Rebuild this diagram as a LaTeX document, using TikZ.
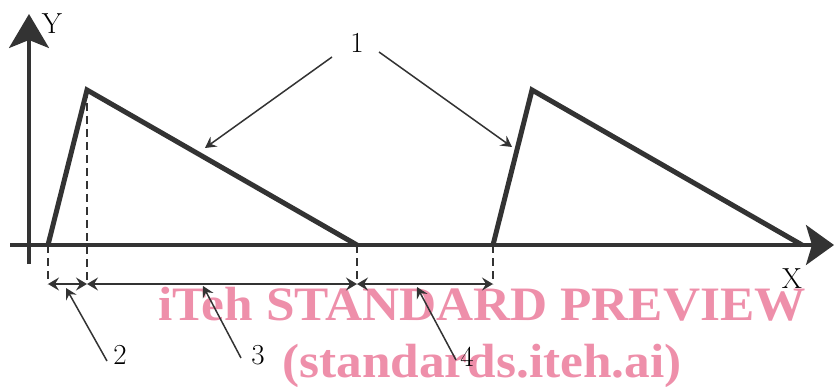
\documentclass[tikz,border=0pt]{standalone}
\usepackage{fontspec}
\newfontfamily\wmfont{Liberation Serif}
\usetikzlibrary{arrows.meta}
\definecolor{ink}{HTML}{333333}
\definecolor{wmpink}{HTML}{EE8FAA}

\begin{document}
\begin{tikzpicture}[x=1pt,y=-1pt,
  font=\fontsize{29}{29}\selectfont,
  axis/.style={draw=ink, line width=3.2pt},
  pulse/.style={draw=ink, line width=5pt, line join=miter},
  ext/.style={draw=ink, line width=1.5pt, dash pattern=on 8pt off 5pt},
  dim/.style={draw=ink, line width=1.5pt, {Stealth[length=11pt,width=13pt,inset=4pt]}-{Stealth[length=11pt,width=13pt,inset=4pt]}},
  lead/.style={draw=ink, line width=1.5pt, -{Stealth[length=11pt,width=12pt,inset=4pt]}},
  lbl/.style={text=black, inner sep=0pt},
  wm/.style={text=wmpink, font=\wmfont\bfseries\fontsize{48}{48}\selectfont, inner sep=0pt, xscale=1.07, transform shape},
]
\useasboundingbox (0,0) rectangle (834,387);
% ---------------- watermark ----------------
\node[wm, anchor=base] (wmtop) at (482,320) {iTeh STANDARD PREVIEW};
\node[wm, anchor=base] (wmbot) at (482,377) {(standards.iteh.ai)};
% ---------------- axes ----------------
\coordinate (ybot) at (29,264);
\coordinate (ytop) at (29,14);
\coordinate (xleft) at (10,245);
\coordinate (xright) at (834,245);
\draw[axis, -{Stealth[length=34pt,width=40pt,inset=8pt]}] (ybot) -- (ytop);
\draw[axis, -{Stealth[length=28pt,width=40pt,inset=6pt]}] (xleft) -- (xright);
\node[lbl] (ylab) at (52,24) {Y};
\node[lbl] (xlab) at (792,279) {X};
% ---------------- pulses ----------------
\coordinate (aS) at (48,245);
\coordinate (aP) at (87,90);
\coordinate (aE) at (357,245);
\coordinate (bS) at (493,245);
\coordinate (bP) at (532,90);
\coordinate (bE) at (802,245);
\draw[pulse] (aS) -- (aP) -- (aE);
\draw[pulse] (bS) -- (bP) -- (bE);
% ---------------- dimensions ----------------
\coordinate (dA) at (48,284);
\coordinate (dB) at (87,284);
\coordinate (dC) at (357,284);
\coordinate (dD) at (493,284);
\draw[ext] (aS) -- (dA);
\draw[ext] (aP) -- (dB);
\draw[ext] (aE) -- (dC);
\draw[ext] (bS) -- (dD);
\draw[dim] (dA) -- (dB);
\draw[dim] (dB) -- (dC);
\draw[dim] (dC) -- (dD);
% ---------------- leaders ----------------
\node[lbl] (one) at (357,43) {1};
\node[lbl] (two) at (120,355) {2};
\node[lbl] (three) at (258,355) {3};
\node[lbl] (four) at (467,357) {4};
\coordinate (oneL) at (332,57);
\coordinate (oneR) at (379,52);
\coordinate (tipA) at (205,148);
\coordinate (tipB) at (512,147);
\coordinate (twoS) at (107,361);
\coordinate (threeS) at (241,358);
\coordinate (fourS) at (456,360);
\draw[lead] (oneL) -- (tipA);
\draw[lead] (oneR) -- (tipB);
\draw[lead] (twoS) -- (66,288);
\draw[lead] (threeS) -- (203,286);
\draw[lead] (fourS) -- (417,287);
\end{tikzpicture}
\end{document}
